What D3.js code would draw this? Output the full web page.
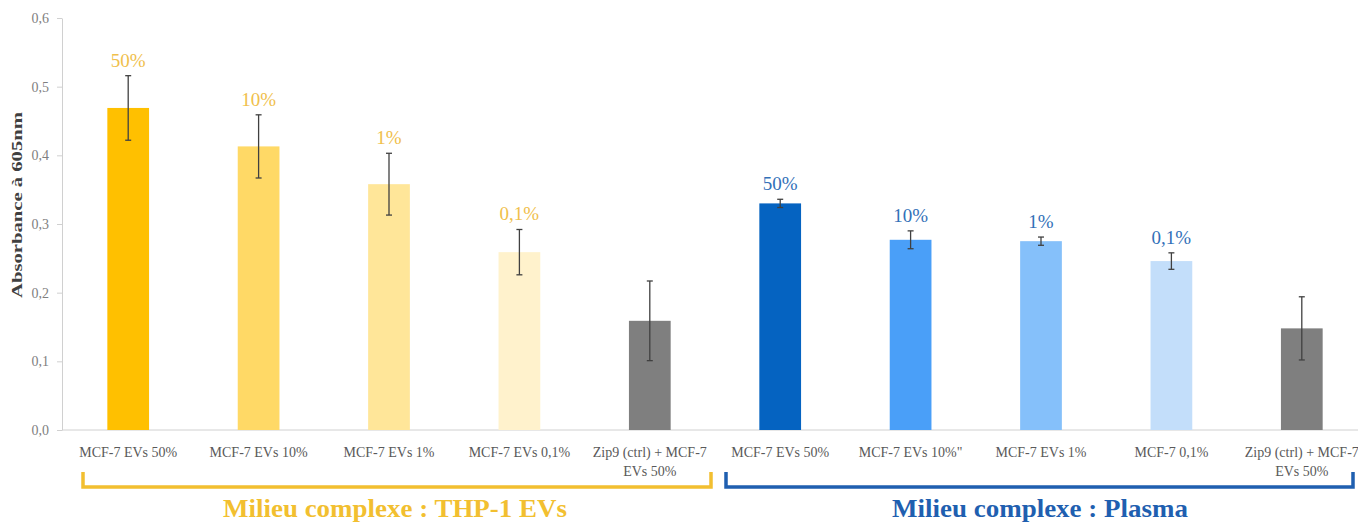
<!DOCTYPE html>
<html><head><meta charset="utf-8">
<script src="https://cdn.jsdelivr.net/npm/d3@7"></script>
<style>html,body{margin:0;padding:0;background:#fff;overflow:hidden}</style>
</head><body>
<svg id="chart" width="1358" height="522"></svg>
<script>
const categories = ["MCF-7 EVs 50%","MCF-7 EVs 10%","MCF-7 EVs 1%","MCF-7 EVs 0,1%","Zip9 (ctrl) + MCF-7 EVs 50%",
  "MCF-7 EVs 50%","MCF-7 EVs 10%\"","MCF-7 EVs 1%","MCF-7 0,1%","Zip9 (ctrl) + MCF-7 EVs 50%"];
const values = [0.469,0.413,0.358,0.259,0.159,0.330,0.277,0.275,0.246,0.148];
const errors = [0.047,0.046,0.045,0.033,0.058,0.006,0.013,0.006,0.012,0.046];
const barLabels = ["50%","10%","1%","0,1%","","50%","10%","1%","0,1%",""];
const groupOf = [0,0,0,0,0,1,1,1,1,1];
const yTicks = [0,0.1,0.2,0.3,0.4,0.5,0.6];
const groups = ["Milieu complexe : THP-1 EVs","Milieu complexe : Plasma"];
const groupSpans = [[0,4],[5,9]];
const palette = ["#FFC000","#FFD966","#FFE699","#FFF2CC","#7F7F7F","#0563C1","#4A9FF8","#85C0FA","#C3DEFA","#7F7F7F"];
const groupColors = ["#F2BF30","#1F5FB0"];
const labelColors = ["#F0C04C","#3270B8"];

const svg = d3.select("#chart");
const serif = "'Liberation Serif','DejaVu Serif',serif";

const x = d3.scaleBand().domain(d3.range(categories.length)).range([63,1367]).paddingInner(0.68).paddingOuter(0.34);
const y = d3.scaleLinear().domain([0,0.6]).range([430,18]);

// y axis
const yAxis = svg.append("g").attr("transform","translate(62,0)")
  .call(d3.axisLeft(y).tickValues(yTicks).tickSize(5).tickSizeOuter(0).tickPadding(8).tickFormat(d=>d3.format(".1f")(d).replace(".",",")));
yAxis.select(".domain").attr("stroke","#D0D0D0");
yAxis.selectAll(".tick line").attr("stroke","#D0D0D0");
yAxis.selectAll("text").attr("font-family",serif).attr("font-size",14).attr("fill","#7F7F7F");

// x axis line
svg.append("line").attr("x1",62).attr("x2",1358).attr("y1",y(0)).attr("y2",y(0)).attr("stroke","#D0D0D0").attr("stroke-width",1);

// y label
svg.append("text").attr("transform","translate(22,205) rotate(-90)").attr("text-anchor","middle")
  .attr("font-family",serif).attr("font-weight","bold").attr("font-size",15).attr("fill","#404040")
  .attr("textLength",186).attr("lengthAdjust","spacingAndGlyphs")
  .text("Absorbance à 605nm");

// bars
svg.selectAll("rect.bar").data(values).join("rect").attr("class","bar")
  .attr("x",(d,i)=>x(i)).attr("width",x.bandwidth())
  .attr("y",d=>y(d)).attr("height",d=>y(0)-y(d))
  .attr("fill",(d,i)=>palette[i]);

// error bars
const eb = svg.append("g").attr("stroke","#404040").attr("stroke-width",1.3);
values.forEach((v,i)=>{
  const cx = x(i)+x.bandwidth()/2;
  eb.append("line").attr("x1",cx).attr("x2",cx).attr("y1",y(v+errors[i])).attr("y2",y(v-errors[i]));
  eb.append("line").attr("x1",cx-3).attr("x2",cx+3).attr("y1",y(v+errors[i])).attr("y2",y(v+errors[i]));
  eb.append("line").attr("x1",cx-3).attr("x2",cx+3).attr("y1",y(v-errors[i])).attr("y2",y(v-errors[i]));
});

// bar labels
svg.selectAll("text.blabel").data(barLabels).join("text").attr("class","blabel")
  .attr("x",(d,i)=>x(i)+x.bandwidth()/2).attr("y",(d,i)=>y(values[i]+errors[i])-9)
  .attr("text-anchor","middle").attr("font-family",serif).attr("font-size",19)
  .attr("fill",(d,i)=>labelColors[groupOf[i]]).text(d=>d);

// category labels with wrap
const catG = svg.append("g");
categories.forEach((c,i)=>{
  const cx = x(i)+x.bandwidth()/2;
  const t = catG.append("text").attr("x",cx).attr("y",457).attr("text-anchor","middle")
    .attr("font-family",serif).attr("font-size",14).attr("fill","#595959");
  const words = c.split(" ");
  let line = [];
  let tspan = t.append("tspan").attr("x",cx).attr("dy",0);
  words.forEach(w=>{
    line.push(w);
    tspan.text(line.join(" "));
    if (tspan.node().getComputedTextLength() > 126 && line.length>1) {
      line.pop(); tspan.text(line.join(" "));
      line=[w];
      tspan = t.append("tspan").attr("x",cx).attr("dy",19).text(w);
    }
  });
});

// brackets
const bx = [[83,711],[726,1353]];
const titleX = [395,1040], titleW = [344,296];
groupSpans.forEach((s,gi)=>{
  const [x0,x1] = bx[gi];
  svg.append("path").attr("d",`M${x0},472 V487 H${x1} V472`).attr("fill","none")
    .attr("stroke",groupColors[gi]).attr("stroke-width",3.5);
  svg.append("text").attr("x",titleX[gi]).attr("y",517).attr("text-anchor","middle")
    .attr("font-family",serif).attr("font-weight","bold").attr("font-size",25)
    .attr("textLength",titleW[gi]).attr("lengthAdjust","spacingAndGlyphs")
    .attr("fill",groupColors[gi]).text(groups[gi]);
});
</script>
</body></html>
